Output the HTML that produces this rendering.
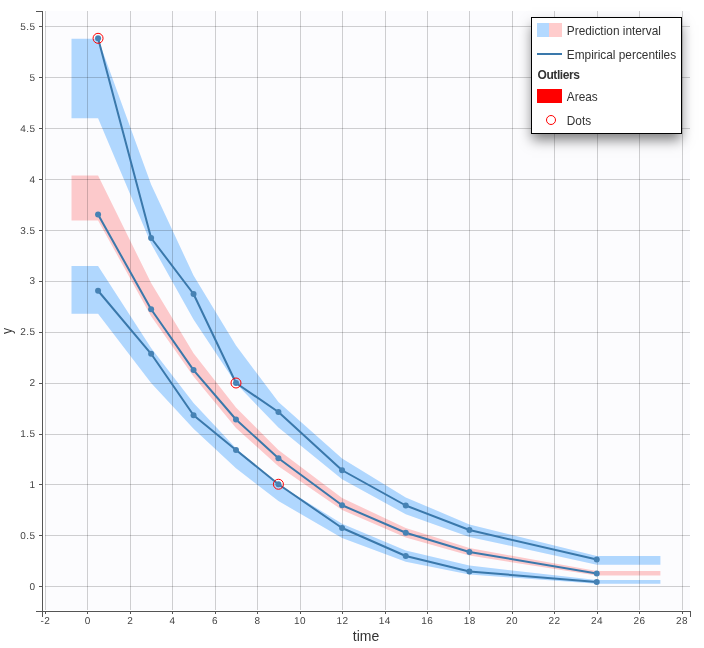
<!DOCTYPE html>
<html><head><meta charset="utf-8"><title>VPC</title>
<style>
html,body{margin:0;padding:0;background:#fff;}
body{width:704px;height:648px;position:relative;overflow:hidden;font-family:"Liberation Sans",sans-serif;}
svg{position:absolute;left:0;top:0;display:block;}
#legend{position:absolute;left:531px;top:17px;width:149px;height:115px;border:1px solid #000;background:#fff;box-shadow:0 7px 12px -1px rgba(0,0,0,0.5);font-size:11.85px;color:#333;}
#legend .row{position:absolute;left:0;white-space:nowrap;}
#legend .lbl{position:absolute;left:34.8px;line-height:14px;white-space:nowrap;}
#legend .sw{position:absolute;left:5px;width:25px;height:14px;}
</style></head><body>
<svg width="704" height="648" viewBox="0 0 704 648"><rect x="45" y="11" width="645" height="599" fill="#fcfcfe"/>
<polygon fill="rgba(0,128,255,0.3)" points="71.50,38.75 98.06,38.75 151.11,184.40 193.55,275.60 235.99,345.60 278.43,401.90 342.09,458.60 405.75,497.40 469.41,524.40 596.73,556.00 660.40,556.00 660.40,564.75 596.73,564.75 469.41,536.90 405.75,514.25 342.09,479.25 278.43,427.50 235.99,383.60 193.55,319.40 151.11,243.80 98.06,118.25 71.50,118.25"/>
<polygon fill="rgba(0,128,255,0.3)" points="71.50,266.00 98.06,266.00 151.11,348.10 193.55,403.10 235.99,448.30 278.43,484.60 342.09,523.75 405.75,550.50 469.41,565.60 596.73,580.00 660.40,580.00 660.40,583.75 596.73,583.75 469.41,574.40 405.75,561.75 342.09,538.10 278.43,501.00 235.99,468.30 193.55,428.75 151.11,383.10 98.06,313.75 71.50,313.75"/>
<polygon fill="rgba(255,0,0,0.2)" points="71.50,175.50 98.06,175.50 151.11,283.10 193.55,353.20 235.99,407.40 278.43,450.00 342.09,498.00 405.75,528.00 469.41,548.10 596.73,571.00 660.40,571.00 660.40,575.60 596.73,575.60 469.41,555.60 405.75,537.40 342.09,510.00 278.43,466.25 235.99,428.00 193.55,376.50 151.11,316.25 98.06,220.50 71.50,220.50"/>
<g stroke="#000" stroke-opacity="0.18" stroke-width="1" shape-rendering="crispEdges"><line x1="45.5" y1="11" x2="45.5" y2="610"/><line x1="87.5" y1="11" x2="87.5" y2="610"/><line x1="130.5" y1="11" x2="130.5" y2="610"/><line x1="172.5" y1="11" x2="172.5" y2="610"/><line x1="215.5" y1="11" x2="215.5" y2="610"/><line x1="257.5" y1="11" x2="257.5" y2="610"/><line x1="300.5" y1="11" x2="300.5" y2="610"/><line x1="342.5" y1="11" x2="342.5" y2="610"/><line x1="385.5" y1="11" x2="385.5" y2="610"/><line x1="427.5" y1="11" x2="427.5" y2="610"/><line x1="469.5" y1="11" x2="469.5" y2="610"/><line x1="512.5" y1="11" x2="512.5" y2="610"/><line x1="554.5" y1="11" x2="554.5" y2="610"/><line x1="597.5" y1="11" x2="597.5" y2="610"/><line x1="639.5" y1="11" x2="639.5" y2="610"/><line x1="682.5" y1="11" x2="682.5" y2="610"/><line x1="45" y1="586.5" x2="690" y2="586.5"/><line x1="45" y1="535.5" x2="690" y2="535.5"/><line x1="45" y1="484.5" x2="690" y2="484.5"/><line x1="45" y1="434.5" x2="690" y2="434.5"/><line x1="45" y1="383.5" x2="690" y2="383.5"/><line x1="45" y1="332.5" x2="690" y2="332.5"/><line x1="45" y1="281.5" x2="690" y2="281.5"/><line x1="45" y1="230.5" x2="690" y2="230.5"/><line x1="45" y1="179.5" x2="690" y2="179.5"/><line x1="45" y1="128.5" x2="690" y2="128.5"/><line x1="45" y1="77.5" x2="690" y2="77.5"/><line x1="45" y1="26.5" x2="690" y2="26.5"/></g>
<polyline fill="none" stroke="#3a78ab" stroke-width="2" stroke-linejoin="round" points="98.06,38.30 151.11,238.00 193.55,294.00 235.99,383.00 278.43,412.00 342.09,470.25 405.75,505.50 469.41,530.00 596.73,559.50"/><circle cx="98.06" cy="38.30" r="3" fill="#4682b4"/><circle cx="151.11" cy="238.00" r="3" fill="#4682b4"/><circle cx="193.55" cy="294.00" r="3" fill="#4682b4"/><circle cx="235.99" cy="383.00" r="3" fill="#4682b4"/><circle cx="278.43" cy="412.00" r="3" fill="#4682b4"/><circle cx="342.09" cy="470.25" r="3" fill="#4682b4"/><circle cx="405.75" cy="505.50" r="3" fill="#4682b4"/><circle cx="469.41" cy="530.00" r="3" fill="#4682b4"/><circle cx="596.73" cy="559.50" r="3" fill="#4682b4"/>
<polyline fill="none" stroke="#3a78ab" stroke-width="2" stroke-linejoin="round" points="98.06,214.50 151.11,309.25 193.55,370.10 235.99,419.50 278.43,458.25 342.09,505.25 405.75,532.75 469.41,552.00 596.73,573.50"/><circle cx="98.06" cy="214.50" r="3" fill="#4682b4"/><circle cx="151.11" cy="309.25" r="3" fill="#4682b4"/><circle cx="193.55" cy="370.10" r="3" fill="#4682b4"/><circle cx="235.99" cy="419.50" r="3" fill="#4682b4"/><circle cx="278.43" cy="458.25" r="3" fill="#4682b4"/><circle cx="342.09" cy="505.25" r="3" fill="#4682b4"/><circle cx="405.75" cy="532.75" r="3" fill="#4682b4"/><circle cx="469.41" cy="552.00" r="3" fill="#4682b4"/><circle cx="596.73" cy="573.50" r="3" fill="#4682b4"/>
<polyline fill="none" stroke="#3a78ab" stroke-width="2" stroke-linejoin="round" points="98.06,290.75 151.11,353.80 193.55,415.25 235.99,450.00 278.43,484.25 342.09,528.00 405.75,556.00 469.41,571.50 596.73,582.00"/><circle cx="98.06" cy="290.75" r="3" fill="#4682b4"/><circle cx="151.11" cy="353.80" r="3" fill="#4682b4"/><circle cx="193.55" cy="415.25" r="3" fill="#4682b4"/><circle cx="235.99" cy="450.00" r="3" fill="#4682b4"/><circle cx="278.43" cy="484.25" r="3" fill="#4682b4"/><circle cx="342.09" cy="528.00" r="3" fill="#4682b4"/><circle cx="405.75" cy="556.00" r="3" fill="#4682b4"/><circle cx="469.41" cy="571.50" r="3" fill="#4682b4"/><circle cx="596.73" cy="582.00" r="3" fill="#4682b4"/>
<circle cx="98.06" cy="38.30" r="5" fill="none" stroke="#ff0000" stroke-width="1"/>
<circle cx="235.99" cy="383.00" r="5" fill="none" stroke="#ff0000" stroke-width="1"/>
<circle cx="278.43" cy="484.25" r="5" fill="none" stroke="#ff0000" stroke-width="1"/>
<g stroke="#555" stroke-width="1" shape-rendering="crispEdges"><line x1="42.5" y1="11" x2="42.5" y2="617"/><line x1="36" y1="11.5" x2="43" y2="11.5"/><line x1="36" y1="611.5" x2="691" y2="611.5"/><line x1="690.5" y1="611" x2="690.5" y2="617"/><line x1="45.5" y1="611" x2="45.5" y2="614"/><line x1="87.5" y1="611" x2="87.5" y2="614"/><line x1="130.5" y1="611" x2="130.5" y2="614"/><line x1="172.5" y1="611" x2="172.5" y2="614"/><line x1="215.5" y1="611" x2="215.5" y2="614"/><line x1="257.5" y1="611" x2="257.5" y2="614"/><line x1="300.5" y1="611" x2="300.5" y2="614"/><line x1="342.5" y1="611" x2="342.5" y2="614"/><line x1="385.5" y1="611" x2="385.5" y2="614"/><line x1="427.5" y1="611" x2="427.5" y2="614"/><line x1="469.5" y1="611" x2="469.5" y2="614"/><line x1="512.5" y1="611" x2="512.5" y2="614"/><line x1="554.5" y1="611" x2="554.5" y2="614"/><line x1="597.5" y1="611" x2="597.5" y2="614"/><line x1="639.5" y1="611" x2="639.5" y2="614"/><line x1="682.5" y1="611" x2="682.5" y2="614"/><line x1="39" y1="586.5" x2="43" y2="586.5"/><line x1="39" y1="535.5" x2="43" y2="535.5"/><line x1="39" y1="484.5" x2="43" y2="484.5"/><line x1="39" y1="434.5" x2="43" y2="434.5"/><line x1="39" y1="383.5" x2="43" y2="383.5"/><line x1="39" y1="332.5" x2="43" y2="332.5"/><line x1="39" y1="281.5" x2="43" y2="281.5"/><line x1="39" y1="230.5" x2="43" y2="230.5"/><line x1="39" y1="179.5" x2="43" y2="179.5"/><line x1="39" y1="128.5" x2="43" y2="128.5"/><line x1="39" y1="77.5" x2="43" y2="77.5"/><line x1="39" y1="26.5" x2="43" y2="26.5"/></g>
<g font-family="'Liberation Sans', sans-serif" font-size="10" letter-spacing="0.44" fill="#444" text-rendering="geometricPrecision"><text x="45.3" y="624.3" text-anchor="middle">-2</text><text x="87.8" y="624.3" text-anchor="middle">0</text><text x="130.2" y="624.3" text-anchor="middle">2</text><text x="172.6" y="624.3" text-anchor="middle">4</text><text x="215.1" y="624.3" text-anchor="middle">6</text><text x="257.5" y="624.3" text-anchor="middle">8</text><text x="299.9" y="624.3" text-anchor="middle">10</text><text x="342.4" y="624.3" text-anchor="middle">12</text><text x="384.8" y="624.3" text-anchor="middle">14</text><text x="427.3" y="624.3" text-anchor="middle">16</text><text x="469.7" y="624.3" text-anchor="middle">18</text><text x="512.1" y="624.3" text-anchor="middle">20</text><text x="554.6" y="624.3" text-anchor="middle">22</text><text x="597.0" y="624.3" text-anchor="middle">24</text><text x="639.5" y="624.3" text-anchor="middle">26</text><text x="681.9" y="624.3" text-anchor="middle">28</text><text x="35.6" y="590.2" text-anchor="end">0</text><text x="35.6" y="539.2" text-anchor="end">0.5</text><text x="35.6" y="488.3" text-anchor="end">1</text><text x="35.6" y="437.3" text-anchor="end">1.5</text><text x="35.6" y="386.4" text-anchor="end">2</text><text x="35.6" y="335.4" text-anchor="end">2.5</text><text x="35.6" y="284.4" text-anchor="end">3</text><text x="35.6" y="233.5" text-anchor="end">3.5</text><text x="35.6" y="182.5" text-anchor="end">4</text><text x="35.6" y="131.6" text-anchor="end">4.5</text><text x="35.6" y="80.7" text-anchor="end">5</text><text x="35.6" y="29.7" text-anchor="end">5.5</text></g>
<text x="366" y="640.7" text-anchor="middle" font-family="'Liberation Sans', sans-serif" font-size="14" fill="#333">time</text>
<text transform="translate(11.5,331) rotate(-90) scale(0.86,1)" text-anchor="middle" font-family="'Liberation Sans', sans-serif" font-size="14" fill="#333">y</text></svg>
<div id="legend">
<div class="sw" style="top:5px;background:linear-gradient(to right,#b3d9ff 0,#b3d9ff 50%,#ffcccc 50%,#ffcccc 100%)"></div>
<div class="lbl" style="top:5.75px">Prediction interval</div>
<div class="sw" style="top:35px;height:2px;background:#3a78ab"></div>
<div class="lbl" style="top:29.75px">Empirical percentiles</div>
<div class="lbl" style="top:49.5px;left:5.5px;font-weight:bold;font-size:12px;letter-spacing:-0.42px">Outliers</div>
<div class="sw" style="top:71px;background:#f00"></div>
<div class="lbl" style="top:71.75px">Areas</div>
<div style="position:absolute;left:14px;top:97px;width:10px;height:10px;border:1.3px solid #f00;border-radius:50%;box-sizing:border-box;width:10.8px;height:10.8px;left:13.6px;top:96.7px"></div>
<div class="lbl" style="top:95.75px">Dots</div>
</div>
</body></html>
